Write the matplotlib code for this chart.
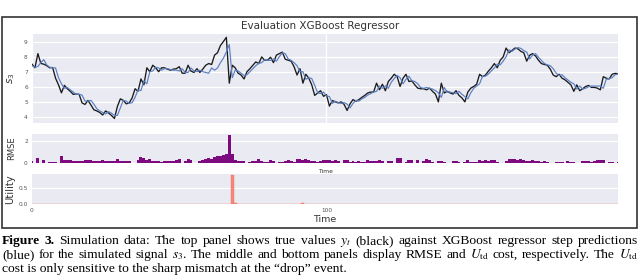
import matplotlib
matplotlib.use("Agg")
import matplotlib.pyplot as plt
from matplotlib.patches import Rectangle

# ---------------- data ----------------
true_vals = [
    7.5, 7.26, 8.2, 7.55, 7.5, 7.4, 7.26, 7.28, 6.57, 6.13,
    5.6, 6.1, 5.87, 5.7, 5.5, 5.52, 5.5, 4.93, 4.83, 5.1,
    4.8, 4.48, 4.4, 4.3, 4.13, 4.4, 4.26, 4.1, 3.9, 4.7,
    5.2, 5.1, 4.87, 4.93, 5.26, 5.87, 5.7, 6.52, 6.13, 7.26,
    7.0, 7.43, 7.26, 7.0, 7.26, 7.26, 7.17, 7.1, 7.17, 7.2,
    7.33, 6.9, 6.9, 7.43, 7.04, 6.95, 7.2, 6.95, 7.17, 7.43,
    7.54, 7.48, 8.1, 8.26, 8.74, 9.0, 9.28, 6.24, 7.43, 7.26,
    6.9, 6.78, 6.52, 7.0, 7.2, 7.43, 7.65, 7.54, 7.98, 7.76,
    7.76, 7.96, 7.6, 8.1, 8.2, 8.3, 7.83, 7.76, 7.7, 7.33,
    6.78, 7.2, 6.24, 6.83, 6.57, 6.13, 5.43, 5.59, 5.74, 5.37,
    5.48, 4.72, 5.09, 5.0, 4.93, 5.0, 4.83, 4.43, 4.87, 5.15,
    5.04, 5.15, 5.3, 5.43, 5.59, 5.65, 5.65, 6.24, 5.8, 6.17,
    5.74, 6.35, 6.57, 6.83, 6.67, 6.02, 6.57, 6.83, 6.35, 6.39,
    6.13, 5.91, 5.87, 5.87, 5.8, 5.91, 5.7, 5.52, 5.0, 6.24,
    5.59, 5.7, 5.59, 5.52, 5.74, 5.43, 5.26, 5.0, 5.65, 5.91,
    6.02, 6.17, 6.83, 6.67, 6.78, 7.04, 7.26, 7.54, 7.26, 7.76,
    7.98, 8.57, 8.26, 8.41, 8.57, 8.52, 8.35, 8.26, 7.7, 8.09,
    8.2, 8.04, 7.76, 7.54, 7.48, 7.43, 7.17, 6.78, 6.67, 6.83,
    6.57, 6.46, 6.3, 6.13, 5.7, 6.13, 5.74, 5.87, 6.02, 6.09,
    5.96, 5.96, 5.91, 5.8, 6.67, 6.57, 6.52, 6.83, 6.89, 6.87,
]

pred_vals = [
    7.4, 7.3, 7.35, 7.6, 7.8, 7.45, 7.3, 7.25, 7.25, 6.6,
    6.2, 5.9, 5.95, 5.8, 5.65, 5.5, 5.5, 5.45, 5.05, 5.05,
    5.1, 4.85, 4.55, 4.4, 4.3, 4.2, 4.35, 4.25, 4.1, 4.1,
    4.6, 5.1, 5.05, 4.9, 4.95, 5.3, 5.8, 5.75, 6.4, 6.2,
    7.0, 7.05, 7.3, 7.25, 7.1, 7.2, 7.2, 7.15, 7.1, 7.1,
    7.05, 7.2, 6.95, 6.95, 7.25, 7.05, 7.0, 7.1, 7.0, 6.95,
    6.9, 7.25, 7.1, 7.25, 7.6, 7.9, 8.3, 8.8, 6.6, 7.1,
    7.05, 6.9, 6.75, 6.8, 7.0, 7.2, 7.4, 7.55, 7.6, 7.8,
    7.75, 7.75, 7.85, 7.7, 8.0, 8.25, 8.2, 7.85, 7.75, 7.6,
    7.4, 7.0, 7.0, 6.5, 6.6, 6.55, 6.1, 5.6, 5.55, 5.65,
    5.4, 5.35, 4.9, 5.05, 4.95, 4.9, 4.95, 4.85, 4.6, 4.9,
    5.1, 5.05, 5.2, 5.3, 5.45, 5.55, 5.65, 5.7, 6.05, 5.9,
    6.05, 5.9, 6.3, 6.55, 6.75, 6.6, 6.2, 6.5, 6.7, 6.4,
    6.35, 6.2, 5.95, 5.9, 5.95, 5.9, 5.85, 5.75, 5.6, 5.3,
    5.95, 5.65, 5.65, 5.6, 5.55, 5.7, 5.5, 5.35, 5.2, 5.6,
    5.9, 6.05, 6.2, 6.7, 6.7, 6.85, 7.05, 7.25, 7.5, 7.45,
    7.7, 8.0, 8.45, 8.35, 8.5, 8.6, 8.55, 8.4, 8.3, 7.85,
    8.1, 8.2, 7.95, 7.75, 7.55, 7.45, 7.4, 7.2, 6.9, 6.75,
    6.8, 6.6, 6.45, 6.3, 6.2, 5.85, 6.05, 5.85, 5.9, 6.0,
    6.05, 6.05, 6.05, 6.05, 5.9, 6.5, 6.55, 6.6, 6.8, 6.85,
]

rmse_vals = [
    0.15, 0.0, 0.45, 0.0, 0.3, 0.0, 0.05, 0.05, 0.05, 0.0,
    0.6, 0.3, 0.25, 0.25, 0.2, 0.15, 0.2, 0.2, 0.25, 0.25,
    0.3, 0.2, 0.15, 0.2, 0.3, 0.2, 0.15, 0.15, 0.2, 0.35,
    0.2, 0.15, 0.15, 0.2, 0.0, 0.0, 0.3, 0.5, 0.45, 0.3,
    0.4, 0.15, 0.15, 0.15, 0.1, 0.15, 0.15, 0.2, 0.15, 0.3,
    0.35, 0.0, 0.2, 0.4, 0.3, 0.0, 0.0, 0.15, 0.25, 0.35,
    0.45, 0.4, 0.55, 0.6, 0.65, 0.7, 0.85, 2.5, 0.8, 0.25,
    0.2, 0.2, 0.15, 0.0, 0.1, 0.2, 0.2, 0.4, 0.15, 0.05,
    0.05, 0.25, 0.2, 0.0, 0.1, 0.1, 0.15, 0.25, 0.2, 0.05,
    0.35, 0.4, 0.25, 0.4, 0.3, 0.15, 0.15, 0.1, 0.15, 0.3,
    0.25, 0.3, 0.2, 0.25, 0.2, 0.0, 0.25, 0.25, 0.1, 0.15,
    0.1, 0.15, 0.1, 0.1, 0.25, 0.2, 0.2, 0.15, 0.25, 0.2,
    0.0, 0.15, 0.2, 0.0, 0.45, 0.45, 0.0, 0.1, 0.3, 0.25,
    0.0, 0.3, 0.0, 0.2, 0.35, 0.3, 0.1, 0.0, 0.2, 0.2,
    0.1, 0.0, 0.0, 0.15, 0.2, 0.1, 0.0, 0.05, 0.25, 0.1,
    0.05, 0.05, 0.25, 0.2, 0.25, 0.2, 0.3, 0.3, 0.1, 0.0,
    0.0, 0.2, 0.35, 0.35, 0.4, 0.3, 0.35, 0.3, 0.15, 0.2,
    0.25, 0.2, 0.2, 0.1, 0.15, 0.1, 0.0, 0.0, 0.1, 0.1,
    0.1, 0.0, 0.15, 0.1, 0.1, 0.0, 0.0, 0.2, 0.15, 0.2,
    0.1, 0.15, 0.3, 0.25, 0.3, 0.0, 0.1, 0.05, 0.0, 0.05,
]

utility_vals = [
    0, 0, 0, 0.008, 0.008, 0, 0, 0, 0, 0,
    0.008, 0.008, 0, 0, 0, 0.008, 0, 0, 0, 0,
    0.008, 0, 0, 0.008, 0.008, 0.008, 0, 0, 0, 0,
    0, 0, 0.008, 0, 0, 0, 0.008, 0.008, 0.008, 0,
    0, 0, 0, 0, 0, 0.008, 0, 0, 0.008, 0.008,
    0, 0, 0, 0, 0, 0.008, 0, 0, 0.008, 0.008,
    0, 0, 0, 0.008, 0.008, 0.008, 0.008, 0, 0.90, 0.03,
    0, 0, 0, 0.008, 0.008, 0, 0, 0, 0, 0,
    0.008, 0, 0, 0, 0, 0, 0.008, 0, 0, 0,
    0, 0, 0.03, 0.008, 0, 0, 0, 0, 0, 0,
    0.008, 0, 0, 0, 0, 0.008, 0, 0, 0, 0,
    0.008, 0, 0.008, 0, 0, 0, 0, 0, 0.008, 0,
    0, 0, 0, 0, 0.008, 0.008, 0, 0, 0, 0,
    0, 0.008, 0, 0, 0, 0, 0, 0, 0.008, 0.008,
    0, 0, 0, 0, 0, 0, 0, 0.008, 0, 0,
    0, 0, 0.008, 0.008, 0, 0, 0, 0, 0, 0,
    0.008, 0, 0, 0.008, 0.008, 0, 0, 0, 0, 0,
    0.008, 0, 0, 0, 0, 0, 0.008, 0, 0, 0,
    0, 0, 0, 0.008, 0, 0, 0, 0.008, 0, 0,
    0.008, 0, 0.008, 0, 0, 0, 0.008, 0, 0, 0,
]

time = list(range(len(true_vals)))

top_yticks = [4, 5, 6, 7, 8, 9]
rmse_yticks = [0, 2]
util_yticks = [0.0, 0.5]
util_ytick_labels = ["0.0", "0.5"]
time_ticks = [0, 100]

title_text = "Evaluation XGBoost Regressor"

# ---------------- figure ----------------
W, H = 640, 280
fig = plt.figure(figsize=(W / 100, H / 100), dpi=100)
fig.patch.set_facecolor("white")

FACE = "#EAEAF2"
TICKC = "#555555"


def px_axes(left, top, right, bottom):
    return fig.add_axes([left / W, 1 - bottom / H, (right - left) / W, (bottom - top) / H])


def style(ax):
    ax.set_facecolor(FACE)
    for s in ax.spines.values():
        s.set_visible(False)
    ax.set_axisbelow(True)
    ax.grid(True, axis="y", color="white", lw=0.9)
    ax.tick_params(length=0, pad=3, labelsize=4.2, colors=TICKC)


ax1 = px_axes(32, 34, 618, 123)
ax2 = px_axes(32, 134, 618, 163)
ax3 = px_axes(32, 174, 618, 204)

for ax in (ax1, ax2, ax3):
    style(ax)
    ax.set_xlim(0, 199)

# top panel
ax1.grid(True, axis="x", color="white", lw=0.9)
ax1.plot(time, true_vals, color="#1a1a1a", lw=0.95)
ax1.plot(time, pred_vals, color="#5a7fc2", lw=0.85)
ax1.set_ylim(3.6, 9.5)
ax1.set_yticks(top_yticks)
ax1.set_xticks(time_ticks)
ax1.set_xticklabels([])
ax1.set_ylabel("$s_3$", fontsize=7.5, color="#333333")
ax1.yaxis.set_label_coords(-0.026, 0.5)

# RMSE panel
ax2.bar(time, rmse_vals, width=1.0, color="#7d0a7f", linewidth=0)
ax2.set_ylim(0, 2.6)
ax2.set_yticks(rmse_yticks)
ax2.set_xticks(time_ticks)
ax2.set_xticklabels([])
ax2.set_ylabel("RMSE", fontsize=6, color="#333333")
ax2.yaxis.set_label_coords(-0.027, 0.5)
ax2.set_xlabel("Time", fontsize=4.3, color="#333333", labelpad=1)

# Utility panel
ax3.bar(time, utility_vals, width=1.0, color="#f4877a", edgecolor="#ee7565", linewidth=0.3)
ax3.set_ylim(0, 0.946)
ax3.set_yticks(util_yticks)
ax3.set_yticklabels(util_ytick_labels)
ax3.set_xticks(time_ticks)
ax3.set_ylabel("Utility", fontsize=7.2, color="#333333")
ax3.yaxis.set_label_coords(-0.029, 0.5)
ax3.set_xlabel("Time", fontsize=6.8, color="#333333", labelpad=1)

fig.text(0.5, 1 - 26 / H, title_text, ha="center", va="center", fontsize=7.5, color="#333333")

# outer frame
fig.patches.append(Rectangle((2 / W, 1 - 228 / H), 635 / W, 211 / H, transform=fig.transFigure,
                             fill=False, edgecolor="#333333", lw=1.2))

# ---------------- caption ----------------
FS = 9.7
SERIF = "Liberation Serif"
fig.canvas.draw()
renderer = fig.canvas.get_renderer()

line1 = [("Figure", "bold"), ("3.", "bold"), ("Simulation", None), ("data:", None), ("The", None),
         ("top", None), ("panel", None), ("shows", None), ("true", None), ("values", None),
         ("$y_t$", None), ("(black)", None), ("against", None), ("XGBoost", None), ("regressor", None),
         ("step", None), ("predictions", None)]
line2 = [("(blue)", None), ("for", None), ("the", None), ("simulated", None), ("signal", None),
         ("$s_3$.", None), ("The", None), ("middle", None), ("and", None), ("bottom", None),
         ("panels", None), ("display", None), ("RMSE", None), ("and", None),
         (r"$U_{\mathrm{td}}$", None), ("cost,", None), ("respectively.", None), ("The", None),
         (r"$U_{\mathrm{td}}$", None)]
line3 = "cost is only sensitive to the sharp mismatch at the \u201cdrop\u201d event."


def place_line(tokens, ybase, x0, x1):
    texts = []
    for s, wt in tokens:
        t = fig.text(0, 1 - ybase / H, s, fontsize=FS, family=SERIF, math_fontfamily="stix",
                     fontweight=(wt or "normal"), ha="left", va="baseline", color="black")
        texts.append(t)
    widths = [t.get_window_extent(renderer).width for t in texts]
    gap = (x1 - x0 - sum(widths)) / (len(texts) - 1)
    x = x0
    for t, w in zip(texts, widths):
        t.set_x(x / W)
        x += w + gap


place_line(line1, 244, 2, 638)
place_line(line2, 258, 2, 638)
fig.text(2 / W, 1 - 272 / H, line3, fontsize=FS, family=SERIF, ha="left", va="baseline", color="black")

fig.savefig("out.png", dpi=100)
